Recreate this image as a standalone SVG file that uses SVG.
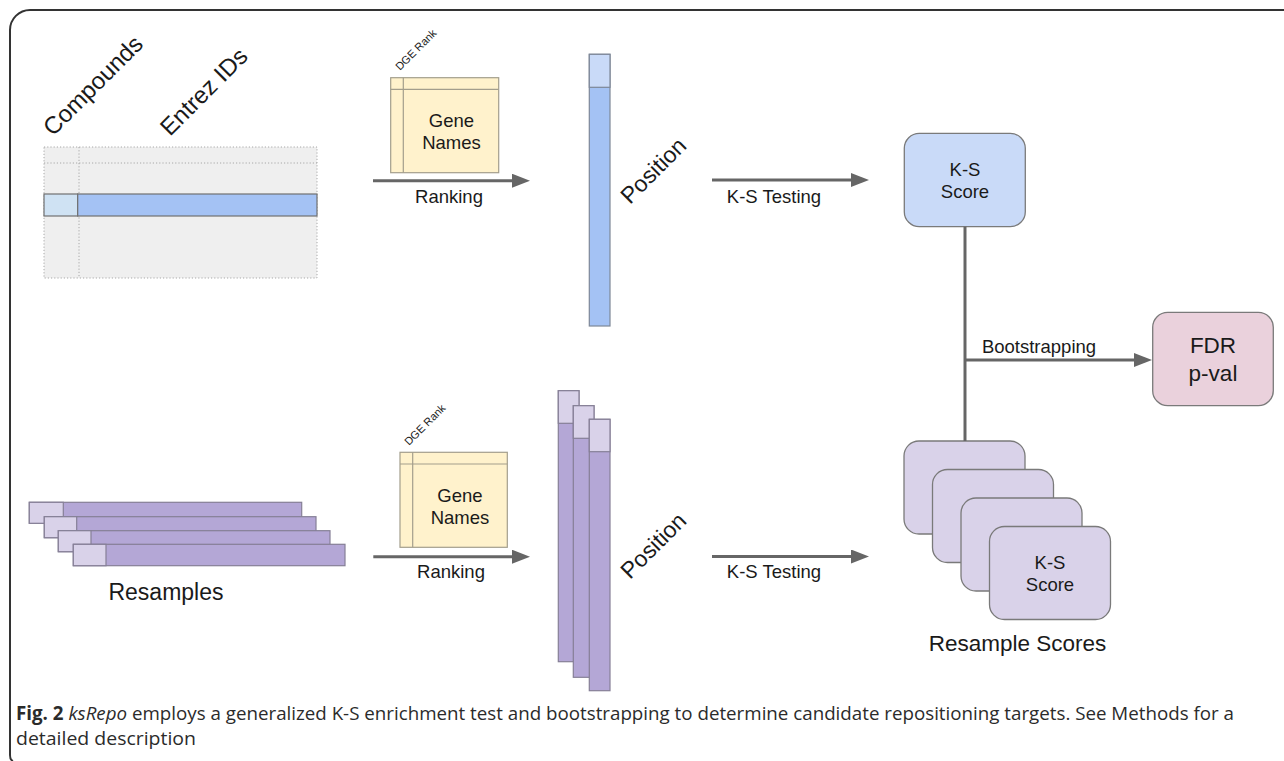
<svg xmlns="http://www.w3.org/2000/svg" width="1284" height="761" viewBox="0 0 1284 761">
<defs>
<style>
.t{font-family:"Liberation Sans",Arial,sans-serif;fill:#1a1a1a}
.lbl{font-size:18.5px;text-anchor:middle}
.big{font-size:23px}
.hd{font-size:24px}
.gene{fill:#fff2cc;stroke:#a39e8c;stroke-width:1.2}
.gl{stroke:#a39e8c;stroke-width:1.2;fill:none}
.bl{fill:#a4c2f4;stroke:#7d8797;stroke-width:1.2}
.blL{fill:#c9daf8;stroke:#7d8797;stroke-width:1.2}
.pu{fill:#b4a7d6;stroke:#857f96;stroke-width:1.2}
.puL{fill:#d9d2e9;stroke:#857f96;stroke-width:1.2}
.box{stroke:#7a7a7a;stroke-width:1.3}
.con{stroke:#666;stroke-width:3;fill:none}
.dot{stroke:#a8a8a8;stroke-width:1;stroke-dasharray:1.2 2;fill:none}
.cap{font-family:"Open Sans","Noto Sans",sans-serif;font-size:19px;fill:#2b2b2b}
</style>
<marker id="ah" markerUnits="userSpaceOnUse" markerWidth="18" markerHeight="14" refX="2" refY="7" orient="auto">
<path d="M0,0 L18,7 L0,14 z" fill="#666"/>
</marker>
</defs>
<rect width="1284" height="761" fill="#fff"/>
<path d="M13,761 Q10,760 10,755 L10,30 A20,20 0 0 1 30,10 L1284,10" fill="none" stroke="#333" stroke-width="2"/>

<g id="compound-table">
<rect x="44" y="147" width="273" height="131" fill="#efefef"/>
<rect x="44" y="147" width="273" height="131" class="dot"/>
<line x1="44" y1="163" x2="317" y2="163" class="dot"/>
<line x1="79" y1="147" x2="79" y2="278" class="dot"/>
<rect x="44" y="194" width="33.7" height="22" fill="#cfe2f3" stroke="#707070" stroke-width="1.2"/>
<rect x="77.7" y="194" width="239.3" height="22" fill="#a4c2f4" stroke="#707070" stroke-width="1.2"/>
<text class="t hd" transform="translate(53,137) rotate(-45)">Compounds</text>
<text class="t hd" transform="translate(170,137) rotate(-45)">Entrez IDs</text>
</g>

<g id="gene-names-top">
<rect x="390.7" y="77.7" width="108" height="95" class="gene"/>
<line x1="403.3" y1="77.7" x2="403.3" y2="172.7" class="gl"/>
<line x1="390.7" y1="89.3" x2="498.7" y2="89.3" class="gl"/>
<text class="t" font-size="11" transform="translate(400,71) rotate(-45)">DGE Rank</text>
<text class="t lbl" x="451.5" y="126.7">Gene</text>
<text class="t lbl" x="451.5" y="149">Names</text>
</g>

<g id="position-top">
<rect x="589.3" y="54.3" width="20.7" height="271.7" class="bl"/>
<rect x="589.3" y="54.3" width="20.7" height="33" class="blL"/>
<text class="t big" transform="translate(630,205) rotate(-45)">Position</text>
</g>

<g id="ks-score">
<rect x="904.3" y="133.3" width="121" height="93.4" rx="15" fill="#c9daf8" class="box"/>
<text class="t lbl" x="965" y="176">K-S</text>
<text class="t lbl" x="965" y="198">Score</text>
</g>

<g id="fdr">
<rect x="1152.7" y="312.3" width="120.6" height="93.4" rx="15" fill="#ead1dc" class="box"/>
<text class="t" font-size="22.5" text-anchor="middle" x="1213" y="353">FDR</text>
<text class="t" font-size="22.5" text-anchor="middle" x="1213" y="381">p-val</text>
</g>

<g id="resamples">
<rect x="29.3" y="502.3" width="272.4" height="21" class="pu"/>
<rect x="29.3" y="502.3" width="34" height="21" class="puL"/>
<rect x="44.3" y="516.7" width="271.7" height="21" class="pu"/>
<rect x="44.3" y="516.7" width="32.4" height="21" class="puL"/>
<rect x="58.3" y="530.7" width="271.7" height="21" class="pu"/>
<rect x="58.3" y="530.7" width="32.7" height="21" class="puL"/>
<rect x="73.3" y="544.3" width="271.7" height="21.4" class="pu"/>
<rect x="73.3" y="544.3" width="32.7" height="21.4" class="puL"/>
<text class="t big" text-anchor="middle" x="166" y="600">Resamples</text>
</g>

<g id="gene-names-bottom">
<rect x="400" y="452.3" width="107.3" height="95" class="gene"/>
<line x1="412.7" y1="452.3" x2="412.7" y2="547.3" class="gl"/>
<line x1="400" y1="464" x2="507.3" y2="464" class="gl"/>
<text class="t" font-size="11" transform="translate(409,446) rotate(-45)">DGE Rank</text>
<text class="t lbl" x="460" y="502">Gene</text>
<text class="t lbl" x="460" y="524">Names</text>
</g>

<g id="position-bottom">
<rect x="558.3" y="390.7" width="20.7" height="271" class="pu"/>
<rect x="558.3" y="390.7" width="20.7" height="32.6" class="puL"/>
<rect x="573.3" y="405.7" width="20.7" height="271.6" class="pu"/>
<rect x="573.3" y="405.7" width="20.7" height="32.6" class="puL"/>
<rect x="589.3" y="419.3" width="20.7" height="271.4" class="pu"/>
<rect x="589.3" y="419.3" width="20.7" height="32.4" class="puL"/>
<text class="t big" transform="translate(630,580) rotate(-45)">Position</text>
</g>

<g id="resample-scores">
<rect x="904" y="441" width="121" height="93" rx="15" fill="#d9d2e9" class="box"/>
<rect x="932.5" y="469.5" width="121" height="93" rx="15" fill="#d9d2e9" class="box"/>
<rect x="961" y="498" width="121" height="93" rx="15" fill="#d9d2e9" class="box"/>
<rect x="989.5" y="526.5" width="121" height="93" rx="15" fill="#d9d2e9" class="box"/>
<text class="t lbl" x="1050" y="569">K-S</text>
<text class="t lbl" x="1050" y="591">Score</text>
<text class="t" font-size="22.5" text-anchor="middle" x="1017.5" y="651">Resample Scores</text>
</g>

<g id="connectors">
<line x1="373" y1="180.7" x2="514" y2="180.7" class="con" marker-end="url(#ah)"/>
<text class="t lbl" x="449" y="202.7">Ranking</text>
<line x1="712" y1="180" x2="853" y2="180" class="con" marker-end="url(#ah)"/>
<text class="t lbl" x="774" y="202.7">K-S Testing</text>
<line x1="373.3" y1="556.7" x2="514" y2="556.7" class="con" marker-end="url(#ah)"/>
<text class="t lbl" x="451" y="578.3">Ranking</text>
<line x1="712" y1="556.5" x2="853" y2="556.5" class="con" marker-end="url(#ah)"/>
<text class="t lbl" x="774" y="578.3">K-S Testing</text>
<line x1="965" y1="226.7" x2="965" y2="441" class="con"/>
<line x1="965" y1="360" x2="1136" y2="360" class="con" marker-end="url(#ah)"/>
<text class="t lbl" x="1039" y="352.7">Bootstrapping</text>
</g>

<g id="caption">
<text class="cap" x="16" y="720" textLength="1218" lengthAdjust="spacingAndGlyphs"><tspan font-weight="bold">Fig. 2</tspan> <tspan font-style="italic">ksRepo</tspan> employs a generalized K-S enrichment test and bootstrapping to determine candidate repositioning targets. See Methods for a</text>
<text class="cap" x="16" y="745" textLength="180" lengthAdjust="spacingAndGlyphs">detailed description</text>
</g>
</svg>
